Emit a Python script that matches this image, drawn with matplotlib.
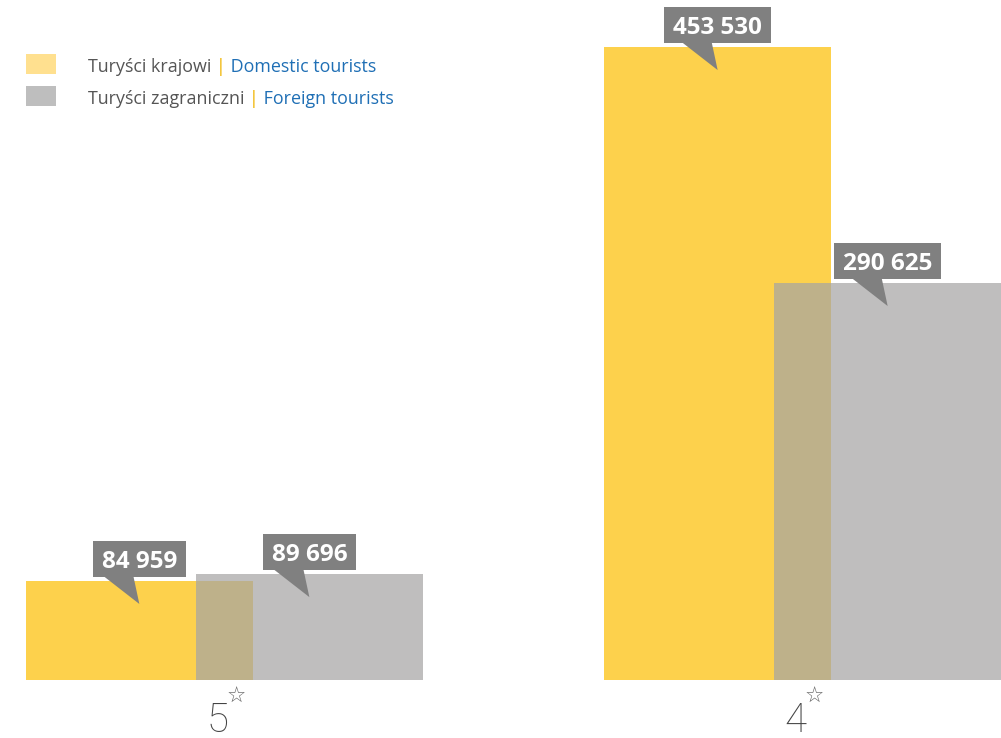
import matplotlib
matplotlib.use("Agg")
import matplotlib.pyplot as plt
from matplotlib.patches import Rectangle, Polygon

# data
categories = ['5', '4']
domestic = [84959, 453530]
foreign = [89696, 290625]
legend_pl = ['Turyści krajowi', 'Turyści zagraniczni']
legend_en = ['Domestic tourists', 'Foreign tourists']

YELLOW = '#fdd14c'
GRAY = (0.647, 0.643, 0.643)
GRAY_ALPHA = 0.71
BOX = '#808080'

W, H = 1001, 738
fig = plt.figure(figsize=(W / 100, H / 100), dpi=100)
ax = fig.add_axes([26 / W, 58 / H, 975 / W, 680 / H])

width = 0.393
off = 0.147
xs = list(range(len(categories)))
ax.bar([x - off for x in xs], domestic, width, color=YELLOW, zorder=2)
ax.bar([x + off for x in xs], foreign, width, color=GRAY, alpha=GRAY_ALPHA, zorder=3)
ax.set_xlim(-0.343, 1.343)
ax.set_ylim(16600, 486000)
ax.axis('off')

fig.canvas.draw()
renderer = fig.canvas.get_renderer()


def px(x, y):
    return ax.transData.transform((x, y))


def callout(xc, val):
    cx, ty = px(xc, val)
    txt = f"{val:,}".replace(',', ' ')
    t = fig.text(cx, ty + 22, txt, transform=None, ha='center', va='center_baseline',
                 color='white', fontsize=17.5, fontweight='bold', family='Open Sans', zorder=6)
    bb = t.get_window_extent(renderer)
    bw = bb.width + 18
    fig.patches.append(Rectangle((cx - bw / 2, ty + 4), bw, 36, transform=None,
                                 facecolor=BOX, edgecolor='none', zorder=5))
    fig.patches.append(Polygon([(cx - 36, ty + 5), (cx - 6, ty + 5), (cx, ty - 23)],
                               closed=True, transform=None, facecolor=BOX,
                               edgecolor='none', zorder=5))


for x, d, f in zip(xs, domestic, foreign):
    callout(x - off, d)
    callout(x + off, f)

# category labels with a star
for x, c in zip(xs, categories):
    cx, _ = px(x, 0)
    fig.text(cx - 7, 6, c, transform=None, ha='center', va='baseline',
             fontsize=29, family='Roboto', fontweight='light', color='#444444')
    fig.text(cx + 11.5, H - 697, '☆', transform=None, ha='center', va='center',
             fontsize=15.5, family='DejaVu Sans', color='#666666')

# legend
sw_colors = ['#ffe08f', '#bebebe']
for i, (pl, en) in enumerate(zip(legend_pl, legend_en)):
    yc = H - (64 + 32 * i)
    fig.patches.append(Rectangle((26, yc - 10), 30, 20, transform=None,
                                 facecolor=sw_colors[i], edgecolor='none'))
    x0 = 88
    for piece, col in [(pl + ' ', '#555555'), ('|', '#f0b400'), (' ' + en, '#1f6fb5')]:
        t = fig.text(x0, yc - 1, piece, transform=None, ha='left', va='center_baseline',
                     fontsize=12.9, family='Open Sans', color=col)
        x0 = t.get_window_extent(renderer).x1

fig.savefig('out.png', dpi=100)
